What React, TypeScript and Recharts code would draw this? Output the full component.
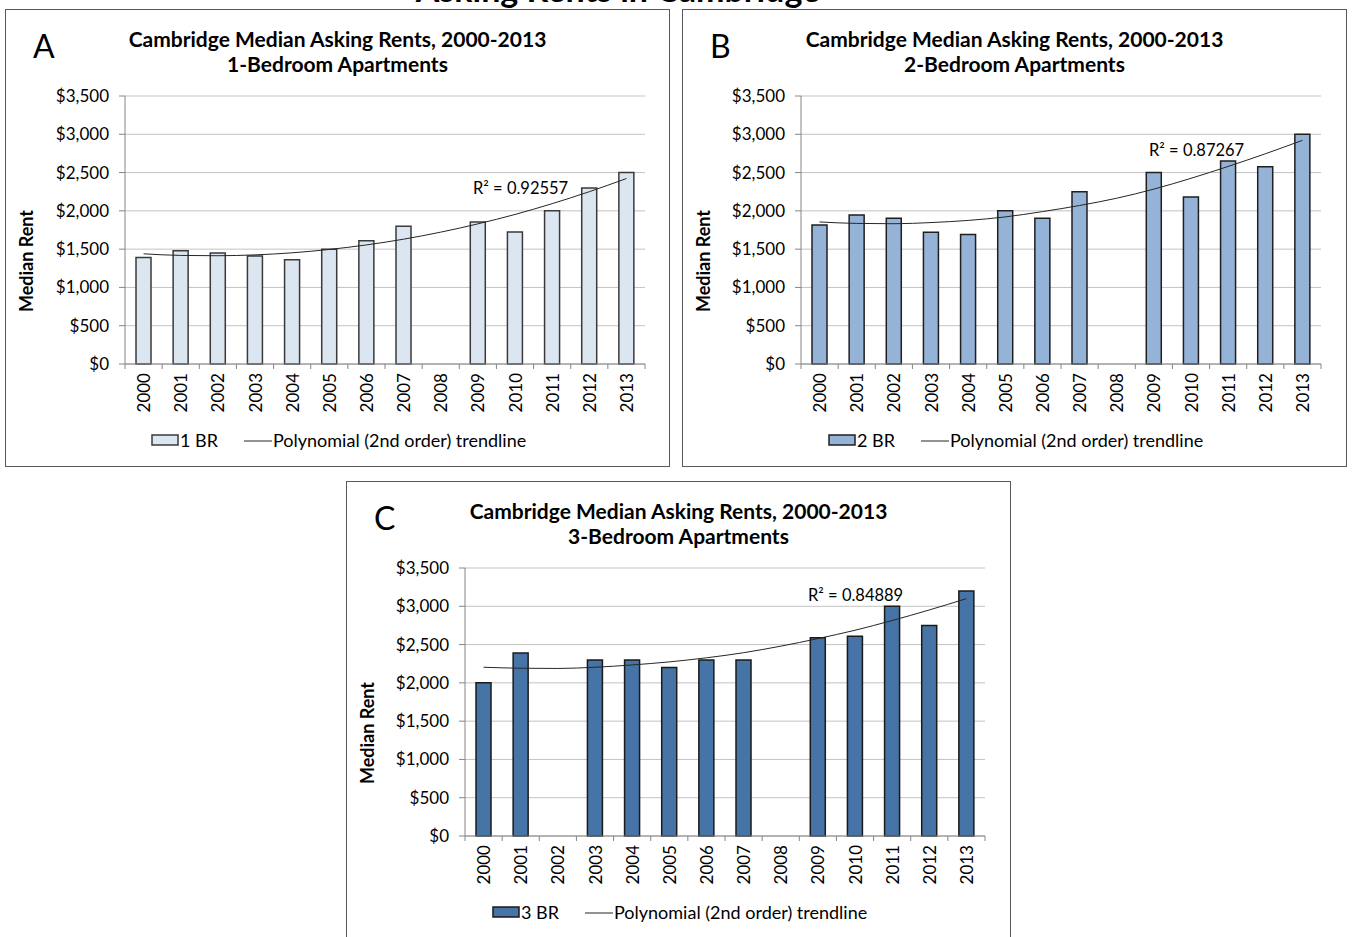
import React from 'react';
import { ComposedChart, Bar, Line, XAxis, YAxis, CartesianGrid } from 'recharts';

// Cambridge median asking rents
const YEARS = ['2000', '2001', '2002', '2003', '2004', '2005', '2006', '2007', '2008', '2009', '2010', '2011', '2012', '2013'];

const RENT_1BR = [1390, 1478, 1450, 1410, 1360, 1500, 1610, 1800, null, 1855, 1725, 2000, 2300, 2500];
const TREND_1BR = [1439, 1418, 1414, 1425, 1452, 1496, 1555, 1630, 1722, 1830, 1953, 2094, 2250, 2422];

const RENT_2BR = [1815, 1945, 1905, 1720, 1690, 2000, 1905, 2250, null, 2500, 2180, 2650, 2575, 3000];
const TREND_2BR = [1855, 1836, 1832, 1847, 1875, 1921, 1990, 2070, 2165, 2284, 2425, 2580, 2745, 2921];

const RENT_3BR = [2000, 2390, null, 2300, 2300, 2200, 2300, 2300, null, 2590, 2610, 3000, 2750, 3200];
const TREND_3BR = [2204, 2191, 2188, 2204, 2234, 2274, 2327, 2394, 2479, 2578, 2687, 2814, 2952, 3100];

const Y_TICKS = [0, 500, 1000, 1500, 2000, 2500, 3000, 3500];

const FONT = 'Lato, "Open Sans", sans-serif';
const W = 663;
const H = 456;
const PLOT_W = 520;
const BAND = PLOT_W / YEARS.length;

const money = (v: number) => '$' + v.toLocaleString('en-US');

const YearTick = (props: any) => {
  const { x, y, payload, index } = props;
  const last = index === YEARS.length - 1;
  return (
    <g>
      <line x1={x - BAND / 2} x2={x - BAND / 2} y1={y} y2={y + 5} stroke="#868686" />
      {last && <line x1={x + BAND / 2} x2={x + BAND / 2} y1={y} y2={y + 5} stroke="#868686" />}
      <text
        x={x}
        y={y + 9}
        transform={`rotate(-90, ${x}, ${y + 9})`}
        textAnchor="end"
        dominantBaseline="central"
        fontSize={17}
        fill="#000"
      >
        {payload.value}
      </text>
    </g>
  );
};

type PanelProps = {
  left: number;
  top: number;
  yAxisWidth: number;
  letter: string;
  subtitle: string;
  rents: (number | null)[];
  trend: number[];
  fill: string;
  stroke: string;
  series: string;
  r2: string;
  r2x: number;
  r2y: number;
};

function Panel(p: PanelProps) {
  const data = YEARS.map((year, i) => ({ year, rent: p.rents[i], trend: p.trend[i] }));
  const marginRight = W - p.yAxisWidth - PLOT_W;

  return (
    <div
      style={{
        position: 'absolute',
        left: p.left,
        top: p.top,
        width: W,
        height: H,
        border: '1px solid #595959',
        background: '#fff',
        fontFamily: FONT,
      }}
    >
      <ComposedChart width={W} height={H} data={data} margin={{ top: 86, right: marginRight, bottom: 0, left: 0 }}>
        <CartesianGrid vertical={false} stroke="#c3c3c3" />
        <XAxis
          dataKey="year"
          interval={0}
          height={102}
          tickSize={0}
          tickMargin={0}
          tickLine={false}
          axisLine={{ stroke: '#868686' }}
          tick={(t: any) => <YearTick {...t} />}
        />
        <YAxis
          domain={[0, 3500]}
          ticks={Y_TICKS}
          width={p.yAxisWidth}
          tickFormatter={money}
          tick={{ fill: '#000', fontSize: 17 }}
          tickSize={6}
          tickMargin={10}
          axisLine={{ stroke: '#868686' }}
          tickLine={{ stroke: '#868686' }}
        />
        <Bar
          dataKey="rent"
          name={p.series}
          fill={p.fill}
          stroke={p.stroke}
          strokeWidth={1.5}
          barSize={15}
          isAnimationActive={false}
        />
        <Line
          dataKey="trend"
          name="Polynomial (2nd order) trendline"
          type="monotone"
          stroke="#262626"
          strokeWidth={1}
          dot={false}
          activeDot={false}
          isAnimationActive={false}
        />
      </ComposedChart>

      <svg
        width={W}
        height={H}
        style={{ position: 'absolute', left: 0, top: 0, pointerEvents: 'none', overflow: 'visible' }}
        fontFamily={FONT}
      >
        <text x={27} y={48} fontSize={32} fill="#000">{p.letter}</text>
        <text x={W / 2} y={36.5} textAnchor="middle" fontSize={21} fontWeight="bold" fill="#000">
          Cambridge Median Asking Rents, 2000-2013
        </text>
        <text x={W / 2} y={61.5} textAnchor="middle" fontSize={21} fontWeight="bold" fill="#000">
          {p.subtitle}
        </text>
        <text
          x={20}
          y={251}
          transform="rotate(-90, 20, 251)"
          textAnchor="middle"
          dominantBaseline="central"
          fontSize={18}
          fontWeight="bold"
          fill="#000"
        >
          Median Rent
        </text>
        <text x={p.r2x} y={p.r2y} fontSize={16.5} fill="#000">R² = {p.r2}</text>

        {/* legend */}
        <rect x={146} y={425} width={26} height={10} fill={p.fill} stroke={p.stroke} strokeWidth={1.5} />
        <text x={174} y={437} fontSize={18} fill="#000">{p.series}</text>
        <line x1={238} x2={266} y1={431} y2={431} stroke="#262626" strokeWidth={1} />
        <text x={267} y={437} fontSize={18} fill="#000">Polynomial (2nd order) trendline</text>
      </svg>
    </div>
  );
}

export default function App() {
  return (
    <div
      style={{
        position: 'absolute',
        left: 0,
        top: 0,
        width: 1353,
        height: 937,
        overflow: 'hidden',
        background: '#fff',
        fontFamily: FONT,
      }}
    >
      <svg width={1353} height={20} style={{ position: 'absolute', left: 0, top: 0 }}>
        <text x={618} y={2} textAnchor="middle" fontSize={34} fontWeight="bold" fontFamily={FONT} fill="#000">
          Asking Rents in Cambridge
        </text>
      </svg>

      <Panel
        left={5}
        top={9}
        yAxisWidth={119}
        letter="A"
        subtitle="1-Bedroom Apartments"
        rents={RENT_1BR}
        trend={TREND_1BR}
        fill="#dce6f1"
        stroke="#3a3a3a"
        series="1 BR"
        r2="0.92557"
        r2x={467}
        r2y={184}
      />
      <Panel
        left={682}
        top={9}
        yAxisWidth={118}
        letter="B"
        subtitle="2-Bedroom Apartments"
        rents={RENT_2BR}
        trend={TREND_2BR}
        fill="#95b3d7"
        stroke="#1f1f1f"
        series="2 BR"
        r2="0.87267"
        r2x={466}
        r2y={146}
      />
      <Panel
        left={346}
        top={481}
        yAxisWidth={118}
        letter="C"
        subtitle="3-Bedroom Apartments"
        rents={RENT_3BR}
        trend={TREND_3BR}
        fill="#4674a6"
        stroke="#1a1a1a"
        series="3 BR"
        r2="0.84889"
        r2x={461}
        r2y={119}
      />
    </div>
  );
}
